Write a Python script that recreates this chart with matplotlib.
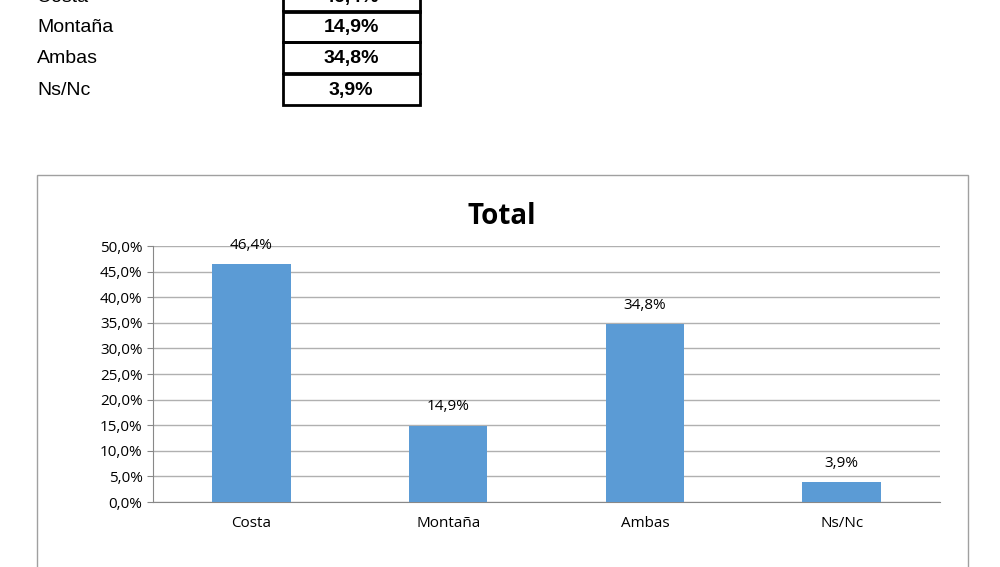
import matplotlib
matplotlib.use("Agg")
import matplotlib.pyplot as plt
from matplotlib.patches import Rectangle

categories = ["Costa", "Montaña", "Ambas", "Ns/Nc"]
values = [46.4, 14.9, 34.8, 3.9]
yticks = [0, 5, 10, 15, 20, 25, 30, 35, 40, 45, 50]

W, H = 1000, 567
fig = plt.figure(figsize=(10, 5.67), dpi=100)
fig.patch.set_facecolor("white")

def fx(x): return x / W
def fy(y): return 1 - y / H

fmt = lambda v: f"{v:.1f}".replace(".", ",") + "%"

# Table at top
row_tops = [-19, 11, 42, 74]
rh = 31
for i, (c, v) in enumerate(zip(categories, values)):
    top = row_tops[i]
    cy = top + rh / 2 + 1
    fig.text(fx(37), fy(cy), c, fontsize=14, family="Liberation Sans", va="center", ha="left")
    fig.patches.append(Rectangle((fx(283), fy(top + rh)), fx(420) - fx(283), rh / H,
                                 transform=fig.transFigure, fill=False, edgecolor="black", lw=2))
    fig.text(fx(351), fy(cy), fmt(v), fontsize=14, weight="bold", family="Liberation Sans",
             va="center", ha="center")

# Chart frame
fig.patches.append(Rectangle((fx(37), fy(600)), fx(968) - fx(37), (600 - 175) / H,
                             transform=fig.transFigure, fill=False, edgecolor="#A0A0A0", lw=1))
fig.text(fx(502), fy(216), "Total", fontsize=20, weight="bold", family="Open Sans",
         ha="center", va="center")

ax = fig.add_axes([fx(153), fy(502), fx(940) - fx(153), (502 - 246) / H])
x = range(len(categories))
ax.bar(x, values, width=0.4, color="#5B9BD5", zorder=3)
ax.set_xlim(-0.5, 3.5)
ax.set_ylim(0, 50)
ax.set_yticks(yticks)
ax.set_yticklabels([fmt(t) for t in yticks], fontsize=11, family="Open Sans")
ax.set_xticks(list(x))
ax.set_xticklabels(categories, fontsize=11, family="Open Sans")
ax.grid(axis="y", color="#B0B0B0", lw=1, zorder=0)
for s in ["top", "right"]:
    ax.spines[s].set_visible(False)
ax.spines["left"].set_color("#888888")
ax.spines["bottom"].set_color("#888888")
ax.tick_params(axis="x", length=0, pad=10)
ax.tick_params(axis="y", length=4, color="#888888")
for xi, v in zip(x, values):
    ax.text(xi, v + 2.2, fmt(v), ha="center", va="bottom", fontsize=11, family="Open Sans")

fig.savefig("out.png", dpi=100)
